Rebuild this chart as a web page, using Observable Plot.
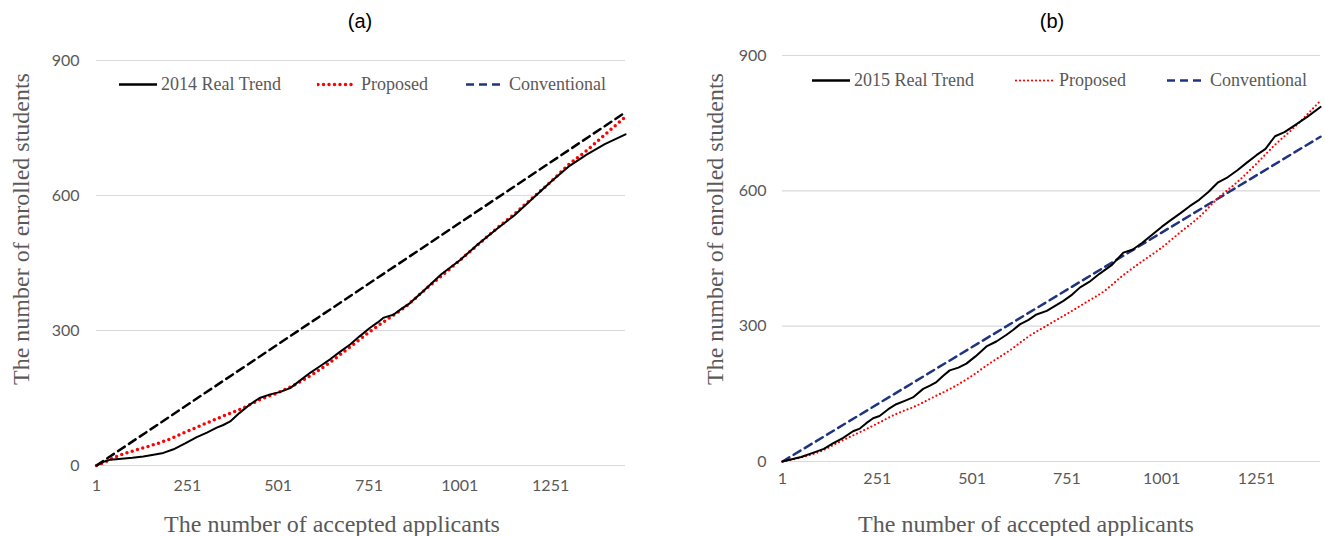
<!DOCTYPE html>
<html>
<head>
<meta charset="utf-8">
<script src="https://cdn.jsdelivr.net/npm/d3@7"></script>
<script src="https://cdn.jsdelivr.net/npm/@observablehq/plot@0.6"></script>
<style>
  body { margin: 0; background: #fff; }
  #wrap { display: flex; width: 1325px; height: 536px; }
  .panel { position: relative; height: 536px; }
  .abs { position: absolute; white-space: nowrap; }
  .title { font-family: "Liberation Sans", Arial, sans-serif; font-size: 20px; color: #000; transform: translate(-50%, -50%); }
  .axt { font-family: "Liberation Serif", "Times New Roman", serif; font-size: 24px; color: #595959; }
  .xt { transform: translate(-50%, -50%); }
  .yt { transform: translate(-50%, -50%) rotate(-90deg); }
  .leg { font-family: "Liberation Serif", "Times New Roman", serif; font-size: 18px; color: #595959; display: flex; align-items: center; transform: translateY(-50%); }
  .leg svg { display: block; }
</style>
</head>
<body>
<div id="wrap"></div>
<script>
// ---------- data ----------
const xTicks = [1, 251, 501, 751, 1001, 1251];
const yTicks = [0, 300, 600, 900];

// Panel (a): 2014
const xRealA = [1, 20, 39, 70, 100, 130, 158, 185, 213, 245, 277, 305, 332, 350, 369, 395, 424, 450, 479, 505, 534, 560, 589, 615, 644, 670, 699, 725, 754, 775, 790, 805, 818, 840, 864, 900, 950, 1001, 1050, 1100, 1150, 1200, 1251, 1300, 1350, 1400, 1457];
const realA = [0, 8, 13, 15, 17, 20, 24, 28, 36, 49, 63, 73, 84, 90, 98, 117, 136, 150, 158, 163, 172, 188, 206, 220, 236, 252, 269, 287, 306, 318, 328, 332, 335, 348, 361, 387, 425, 456, 491, 524, 555, 592, 630, 664, 691, 714, 736];
const xPropA = [1, 30, 59, 100, 150, 200, 251, 300, 350, 400, 450, 501, 550, 600, 650, 700, 751, 800, 850, 900, 950, 1001, 1050, 1100, 1150, 1200, 1251, 1300, 1350, 1400, 1457];
const propA = [0, 10, 21, 32, 44, 58, 76, 93, 110, 126, 146, 162, 181, 205, 233, 264, 296, 324, 352, 387, 421, 456, 490, 525, 558, 594, 630, 668, 700, 735, 775];
const convAx = [1, 1457];
const convA = [0, 785];

// Panel (b): 2015
const xRealB = [1, 50, 81, 110, 134, 160, 187, 205, 222, 240, 257, 280, 301, 325, 345, 372, 390, 407, 425, 442, 465, 486, 510, 539, 565, 592, 610, 627, 650, 671, 698, 720, 742, 765, 786, 810, 837, 870, 900, 925, 950, 975, 1001, 1025, 1050, 1075, 1100, 1125, 1150, 1175, 1200, 1225, 1251, 1275, 1300, 1325, 1350, 1385, 1420];
const realB = [0, 10, 19, 28, 40, 52, 67, 73, 85, 96, 101, 116, 127, 135, 142, 161, 168, 176, 190, 202, 208, 217, 233, 255, 266, 281, 292, 304, 314, 326, 334, 345, 356, 370, 386, 398, 416, 436, 463, 470, 485, 502, 520, 535, 550, 566, 580, 598, 619, 630, 645, 662, 679, 693, 721, 730, 744, 764, 786];
const xPropB = [1, 50, 100, 150, 200, 251, 300, 350, 400, 450, 501, 550, 600, 650, 700, 751, 800, 850, 900, 950, 1001, 1050, 1100, 1150, 1200, 1251, 1300, 1350, 1420];
const propB = [0, 9, 22, 43, 63, 84, 105, 122, 143, 164, 190, 219, 246, 277, 302, 327, 352, 378, 413, 444, 474, 508, 542, 584, 619, 660, 702, 740, 800];
const convBx = [1, 1420];
const convB = [0, 720];

const RED = "#ff0000", NAVY = "#1f3480", BLACK = "#000", GRAY = "#595959", GRID = "#d9d9d9";

function pts(xs, ys) { return xs.map((x, i) => ({x, y: ys[i]})); }

function panel(cfg) {
  const chart = Plot.plot({
    width: cfg.width, height: 536,
    marginLeft: cfg.ml, marginRight: cfg.mr, marginTop: cfg.mt, marginBottom: cfg.mb,
    x: {domain: [1, cfg.xmax]},
    y: {domain: [0, 900]},
    style: {fontFamily: "Lato, sans-serif", fontSize: "16px", color: GRAY, background: "white"},
    marks: [
      Plot.ruleY(yTicks, {stroke: GRID, strokeWidth: 1.2}),
      Plot.axisY({ticks: yTicks, tickSize: 0, tickPadding: cfg.typad, label: null, fill: GRAY, fontSize: 16}),
      Plot.axisX({ticks: xTicks, tickSize: 0, tickPadding: cfg.txpad, label: null, fill: GRAY, fontSize: 16, tickFormat: d => String(d)}),
      Plot.line(pts(cfg.convX, cfg.conv), {x: "x", y: "y", stroke: cfg.convColor, strokeWidth: 2.5, strokeDasharray: "8,5"}),
      Plot.line(pts(cfg.xp, cfg.prop), {x: "x", y: "y", stroke: RED, strokeWidth: cfg.dotW, strokeDasharray: cfg.dotDash, strokeLinecap: "round", curve: "monotone-x"}),
      Plot.line(pts(cfg.xr, cfg.real), {x: "x", y: "y", stroke: BLACK, strokeWidth: 2, curve: "linear"})
    ]
  });
  const div = document.createElement("div");
  div.className = "panel";
  div.style.width = cfg.width + "px";
  div.appendChild(chart);

  const add = (cls, html, left, top) => {
    const e = document.createElement("div");
    e.className = "abs " + cls;
    e.style.left = left + "px"; e.style.top = top + "px";
    e.innerHTML = html;
    div.appendChild(e);
    return e;
  };
  add("title", cfg.title, cfg.titleX, 21);
  add("axt yt", "The number of enrolled students", cfg.ytX, 229);
  add("axt xt", "The number of accepted applicants", cfg.xtX, 524);

  const sw = (stroke, dash, w, cap) =>
    `<svg width="40" height="8"><line x1="1" y1="4" x2="39" y2="4" stroke="${stroke}" stroke-width="${w}" ${dash ? `stroke-dasharray="${dash}"` : ""} stroke-linecap="${cap}"/></svg>`;
  const leg = cfg.legend;
  add("leg", sw(BLACK, null, 2.5, "butt") + `<span style="margin-left:3px">${leg.names[0]}</span>`, leg.x[0], leg.y);
  add("leg", sw(RED, cfg.dotDash, cfg.dotW, "round") + `<span style="margin-left:4px">${leg.names[1]}</span>`, leg.x[1], leg.y);
  add("leg", sw(NAVY, "8,5", 2.5, "butt") + `<span style="margin-left:4px">${leg.names[2]}</span>`, leg.x[2], leg.y);
  return div;
}

const wrap = document.getElementById("wrap");
wrap.appendChild(panel({
  width: 662, ml: 96, mr: 37, mt: 60, mb: 71, xmax: 1457, typad: 17, txpad: 14,
  xr: xRealA, real: realA, xp: xPropA, prop: propA, convX: convAx, conv: convA, convColor: BLACK,
  dotW: 3.5, dotDash: "0,5.5",
  title: "(a)", titleX: 360, ytX: 21, xtX: 332,
  legend: {names: ["2014 Real Trend", "Proposed", "Conventional"], x: [118, 317, 465], y: 84}
}));
wrap.appendChild(panel({
  width: 663, ml: 120, mr: 5, mt: 55, mb: 75, xmax: 1420, typad: 16, txpad: 11,
  xr: xRealB, real: realB, xp: xPropB, prop: propB, convX: convBx, conv: convB, convColor: NAVY,
  dotW: 2.2, dotDash: "0,4",
  title: "(b)", titleX: 390, ytX: 53, xtX: 364,
  legend: {names: ["2015 Real Trend", "Proposed", "Conventional"], x: [149, 353, 504], y: 80}
}));
</script>
</body>
</html>
